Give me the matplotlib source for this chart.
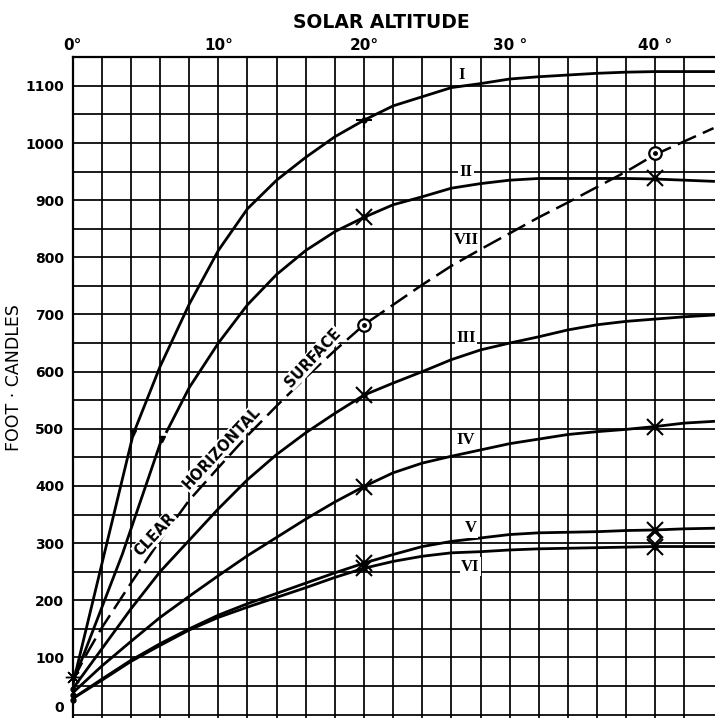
import numpy as np
import matplotlib
matplotlib.use("Agg")
import matplotlib.pyplot as plt

# ---------------- data ----------------
# solar altitude (degrees) grid used for curves III-VI
alt = [0, 2, 4, 6, 8, 10, 12, 14, 16, 18, 20, 22, 24, 26, 28, 30, 32, 34, 36, 38, 40, 42, 44]

# curve I (two segments, broken at ~500 fc)
I_low_x = [0, 2.1, 4.15]
I_low_y = [52, 274, 490]
I_x = [4.3, 6, 8, 10, 12, 14, 16, 18, 20, 22, 24, 26, 28, 30, 32, 34, 36, 38, 40, 42, 44]
I_y = [500, 609, 718, 812, 885, 935, 975, 1011, 1040, 1065, 1081, 1097, 1104, 1112, 1116, 1119, 1122, 1124, 1125, 1125, 1125]

# curve II (two segments)
II_low_x = [0, 3.4, 6.1]
II_low_y = [55, 280, 481]
II_x = [6.45, 8, 10, 12, 14, 16, 18, 20, 22, 24, 26, 28, 30, 32, 34, 36, 38, 40, 42, 44]
II_y = [495, 572, 650, 717, 770, 812, 845, 870, 892, 906, 921, 929, 935, 938, 938, 938, 938, 937, 935, 933]

# curve VII  clear horizontal surface (dashed)
VII_x = [0, 1, 2, 4, 6, 8, 10, 12, 14, 16, 18, 20, 22, 24, 26, 28, 30, 32, 34, 36, 38, 40, 42, 44]
VII_y = [60, 108, 152, 230, 305, 375, 432, 488, 540, 590, 637, 682, 717, 752, 785, 814, 842, 870, 896, 923, 950, 980, 1003, 1026]

III_y = [45, 115, 185, 250, 305, 360, 411, 455, 493, 527, 559, 580, 600, 621, 638, 650, 661, 673, 682, 688, 692, 696, 699]
IV_y = [38, 85, 128, 170, 207, 243, 278, 310, 342, 372, 399, 423, 440, 452, 463, 474, 482, 490, 495, 499, 504, 510, 513]
V_y = [28, 62, 95, 124, 150, 174, 194, 212, 230, 248, 265, 280, 294, 303, 309, 315, 318, 319, 320, 322, 323, 325, 326]
VI_y = [28, 60, 93, 121, 148, 170, 188, 205, 222, 240, 256, 268, 277, 283, 285, 288, 290, 291, 292, 293, 294, 294, 294]

# observation marks
xmark_x = [20, 20, 20, 20, 20, 40, 40, 40, 40]
xmark_y = [870, 559, 399, 265, 256, 938, 504, 323, 294]
circ_x = [20, 40]
circ_y = [682, 982]
plus_x = [20]
plus_y = [1040]
diam_x = [40]
diam_y = [309]
star_x = [0]
star_y = [65]
dot0_x = [0, 0, 0]
dot0_y = [45, 35, 26]
break_x = [4.15, 6.1]
break_y = [492, 483]

# curve labels
lab_text = ["I", "II", "VII", "III", "IV", "V", "VI"]
lab_x = [26.7, 27.0, 27.0, 27.0, 27.0, 27.3, 27.3]
lab_y = [1119, 950, 830, 659, 481, 326, 259]

# words along curve VII
word_text = ["CLEAR", "HORIZONTAL", "SURFACE"]
word_x = [5.65, 10.2, 16.5]
word_y = [315, 466, 624]

xtick_vals = [0, 10, 20, 30, 40]
xtick_text = ["0°", "10°", "20°", "30 °", "40 °"]
ytick_vals = [0, 100, 200, 300, 400, 500, 600, 700, 800, 900, 1000, 1100]

# ---------------- figure ----------------
fig = plt.figure(figsize=(7.15, 7.18), dpi=100)
ax = fig.add_axes([72.7 / 715, 0.0, 1 - 72.7 / 715, 1 - 57.3 / 718])
ax.set_xlim(0, 44.1)
ax.set_ylim(-6, 1150)

# grid
ax.set_xticks(np.arange(0, 43, 2))
ax.set_yticks(np.arange(0, 1101, 50))
ax.grid(True, color="black", lw=1.25)
ax.set_axisbelow(True)
ax.xaxis.tick_top()
ax.tick_params(length=0)
ax.set_xticklabels([xtick_text[xtick_vals.index(v)] if v in xtick_vals else "" for v in np.arange(0, 43, 2)],
                   fontsize=11, fontweight="bold")
ax.set_yticklabels([str(v) if v in ytick_vals else "" for v in np.arange(0, 1101, 50)],
                   fontsize=10, fontweight="bold")
ax.tick_params(axis="x", pad=3)
ax.tick_params(axis="y", pad=6)
# keep the bottom "0" label inside the figure
ax.get_yticklabels()[0].set_va("bottom")
for s in ["right", "bottom"]:
    ax.spines[s].set_visible(False)
for s in ["top", "left"]:
    ax.spines[s].set_linewidth(1.6)

lw = 2.0
ax.plot(I_low_x, I_low_y, color="black", lw=lw)
ax.plot(I_x, I_y, color="black", lw=lw)
ax.plot(II_low_x, II_low_y, color="black", lw=lw)
ax.plot(II_x, II_y, color="black", lw=lw)
ax.plot(alt, III_y, color="black", lw=lw)
ax.plot(alt, IV_y, color="black", lw=lw)
ax.plot(alt, V_y, color="black", lw=lw)
ax.plot(alt, VI_y, color="black", lw=lw)
ax.plot(VII_x, VII_y, color="black", lw=1.8, dashes=(8, 3))

# marks
ax.plot(xmark_x, xmark_y, ls="none", marker="x", ms=11, mew=1.5, color="black", zorder=5)
ax.plot(xmark_x, xmark_y, ls="none", marker="o", ms=3.5, color="black", zorder=6)
ax.plot(plus_x, plus_y, ls="none", marker="+", ms=12, mew=1.5, color="black", zorder=5)
ax.plot(plus_x, plus_y, ls="none", marker="o", ms=3.5, color="black", zorder=6)
ax.plot(circ_x, circ_y, ls="none", marker="o", ms=9, mfc="white", mec="black", mew=1.6, zorder=5)
ax.plot(circ_x, circ_y, ls="none", marker="o", ms=2.5, color="black", zorder=6)
ax.plot(diam_x, diam_y, ls="none", marker="D", ms=6, mfc="white", mec="black", mew=1.4, zorder=5)
ax.plot(star_x, star_y, ls="none", marker=(8, 2, 0), ms=11, mew=1.0, color="black", zorder=5, clip_on=False)
ax.plot(dot0_x, dot0_y, ls="none", marker="o", ms=3.5, color="black", zorder=6, clip_on=False)
ax.plot(break_x, break_y, ls="none", marker="v", ms=4, color="black", zorder=5)

# curve labels
for t, x, y in zip(lab_text, lab_x, lab_y):
    ax.text(x, y, t, ha="center", va="center", fontsize=12, fontweight="bold",
            family="Liberation Serif",
            bbox=dict(fc="white", ec="none", pad=1.0), zorder=7)

for t, x, y in zip(word_text, word_x, word_y):
    ax.text(x, y, t, ha="center", va="center", fontsize=10.5, fontweight="bold",
            rotation=47, rotation_mode="anchor",
            bbox=dict(fc="white", ec="none", pad=0.6), zorder=7)

ax.set_xlabel("SOLAR ALTITUDE", fontsize=13.5, fontweight="bold")
ax.xaxis.set_label_position("top")
ax.xaxis.set_label_coords(0.48, 1.0534)
ax.xaxis.label.set_va("center")
ax.set_ylabel("FOOT · CANDLES", fontsize=12.5)
ax.yaxis.set_label_coords(-0.0914, 0.516)
ax.yaxis.label.set_va("center")

fig.savefig("out.png", dpi=100)
